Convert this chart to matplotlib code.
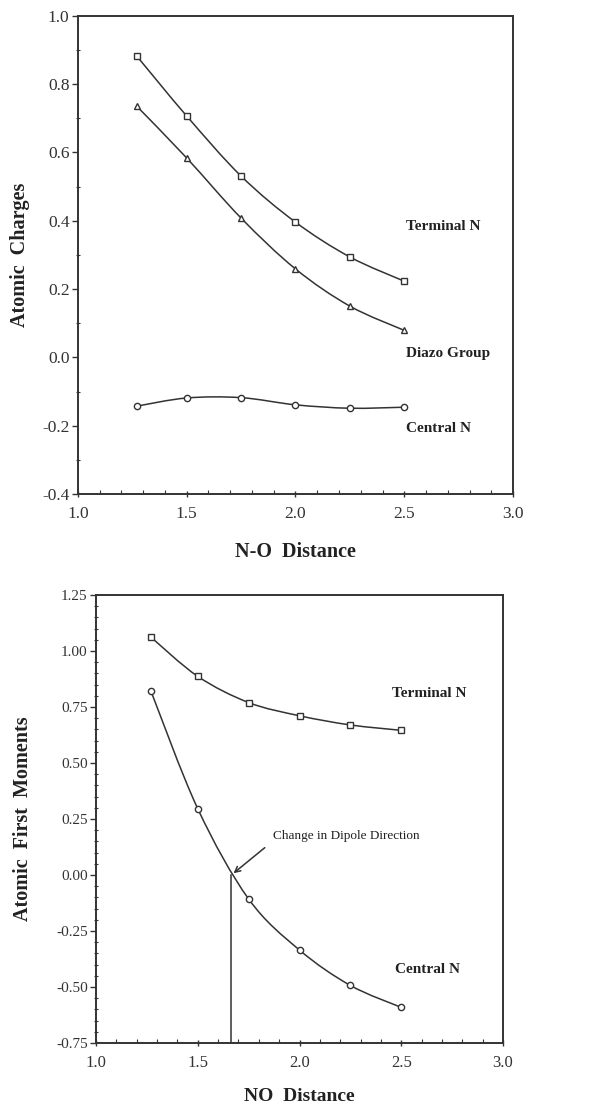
import numpy as np
import matplotlib
matplotlib.use("Agg")
import matplotlib.pyplot as plt
from matplotlib.path import Path
from matplotlib.patches import PathPatch
from matplotlib.ticker import MultipleLocator, FormatStrFormatter

plt.rcParams['font.family'] = ['Liberation Serif', 'DejaVu Serif']

# top panel: atomic charges vs N-O distance
dist = [1.27, 1.5, 1.75, 2.0, 2.25, 2.5]
charge_terminal = [0.883, 0.707, 0.531, 0.396, 0.294, 0.223]
charge_diazo = [0.736, 0.584, 0.408, 0.259, 0.150, 0.079]
charge_central = [-0.143, -0.119, -0.118, -0.139, -0.149, -0.146]

# bottom panel: atomic first moments vs NO distance
moment_terminal = [1.062, 0.887, 0.770, 0.711, 0.670, 0.646]
moment_central = [0.821, 0.296, -0.107, -0.335, -0.493, -0.591]
dipole_switch = 1.665


def smooth_curve(ax, x, y):
    # catmull-rom through the data points, drawn as bezier segments
    pts = np.column_stack([x, y])
    # work in display units so the tangents look right
    d = ax.transData.transform(pts)
    verts = [d[0]]
    codes = [Path.MOVETO]
    n = len(d)
    for i in range(n - 1):
        p0 = d[i - 1] if i > 0 else d[i]
        p1 = d[i]
        p2 = d[i + 1]
        p3 = d[i + 2] if i + 2 < n else d[i + 1]
        c1 = p1 + (p2 - p0) / 6.0
        c2 = p2 - (p3 - p1) / 6.0
        verts += [c1, c2, p2]
        codes += [Path.CURVE4] * 3
    verts = ax.transData.inverted().transform(np.array(verts))
    ax.add_patch(PathPatch(Path(verts, codes), fc='none', ec='#333333', lw=1.1))


def style_axes(ax, lsize):
    for s in ax.spines.values():
        s.set_linewidth(1.4)
        s.set_color('#333333')
    ax.tick_params(which='major', direction='out', length=4, width=1,
                   labelsize=lsize, colors='#333333', pad=2)
    ax.tick_params(which='minor', direction='inout', length=3, width=0.8,
                   colors='#333333')
    ax.tick_params(axis='x', which='major', direction='inout', length=5, pad=6)
    ax.tick_params(axis='x', which='minor', direction='in', length=3)


fig = plt.figure(figsize=(6.13, 11.05), dpi=100)

# ---------------- top panel
ax1 = fig.add_axes([0.127, 0.553, 0.710, 0.4326])
ax1.set_xlim(1.0, 3.0)
ax1.set_ylim(-0.4, 1.0)
ax1.xaxis.set_major_locator(MultipleLocator(0.5))
ax1.xaxis.set_minor_locator(MultipleLocator(0.1))
ax1.yaxis.set_major_locator(MultipleLocator(0.2))
ax1.yaxis.set_minor_locator(MultipleLocator(0.1))
ax1.xaxis.set_major_formatter(FormatStrFormatter('%.1f'))
ax1.yaxis.set_major_formatter(FormatStrFormatter('%.1f'))
style_axes(ax1, 12.5)

for yv, mk in [(charge_terminal, 's'), (charge_diazo, '^'), (charge_central, 'o')]:
    smooth_curve(ax1, dist, yv)
    ax1.plot(dist, yv, ls='none', marker=mk, ms=4.5, mfc='white', mec='#333333', mew=1)

ax1.text(2.51, 0.384, 'Terminal N', fontsize=11, fontweight='bold', va='center', color='#222222')
ax1.text(2.51, 0.012, 'Diazo Group', fontsize=11, fontweight='bold', va='center', color='#222222')
ax1.text(2.51, -0.207, 'Central N', fontsize=11, fontweight='bold', va='center', color='#222222')

ax1.set_xlabel('N-O  Distance', fontsize=14.5, fontweight='bold', color='#222222')
ax1.set_ylabel('Atomic  Charges', fontsize=14.5, fontweight='bold', color='#222222')
ax1.xaxis.set_label_coords(0.5, -0.1)
ax1.yaxis.set_label_coords(-0.11, 0.5)

# ---------------- bottom panel
ax2 = fig.add_axes([0.1566, 0.0561, 0.664, 0.4054])
ax2.set_xlim(1.0, 3.0)
ax2.set_ylim(-0.75, 1.25)
ax2.xaxis.set_major_locator(MultipleLocator(0.5))
ax2.xaxis.set_minor_locator(MultipleLocator(0.1))
ax2.yaxis.set_major_locator(MultipleLocator(0.25))
ax2.yaxis.set_minor_locator(MultipleLocator(0.05))
ax2.xaxis.set_major_formatter(FormatStrFormatter('%.1f'))
ax2.yaxis.set_major_formatter(FormatStrFormatter('%.2f'))
style_axes(ax2, 11)
ax2.tick_params(axis='x', which='major', labelsize=12)

for yv, mk in [(moment_terminal, 's'), (moment_central, 'o')]:
    smooth_curve(ax2, dist, yv)
    ax2.plot(dist, yv, ls='none', marker=mk, ms=4.5, mfc='white', mec='#333333', mew=1)

ax2.plot([dipole_switch, dipole_switch], [-0.75, 0.0], color='#333333', lw=1.1)
ax2.annotate('', xy=(dipole_switch, 0.0), xytext=(1.84, 0.13),
             arrowprops=dict(arrowstyle='->', color='#333333', lw=1.1))
ax2.text(1.868, 0.173, 'Change in Dipole Direction', fontsize=9.5, va='center', color='#222222')
ax2.text(2.453, 0.81, 'Terminal N', fontsize=11, fontweight='bold', va='center', color='#222222')
ax2.text(2.47, -0.424, 'Central N', fontsize=11, fontweight='bold', va='center', color='#222222')

ax2.set_xlabel('NO  Distance', fontsize=14, fontweight='bold', color='#222222')
ax2.set_ylabel('Atomic  First  Moments', fontsize=14.5, fontweight='bold', color='#222222')
ax2.xaxis.set_label_coords(0.5, -0.1)
ax2.yaxis.set_label_coords(-0.155, 0.5)

fig.savefig('out.png', dpi=100)
